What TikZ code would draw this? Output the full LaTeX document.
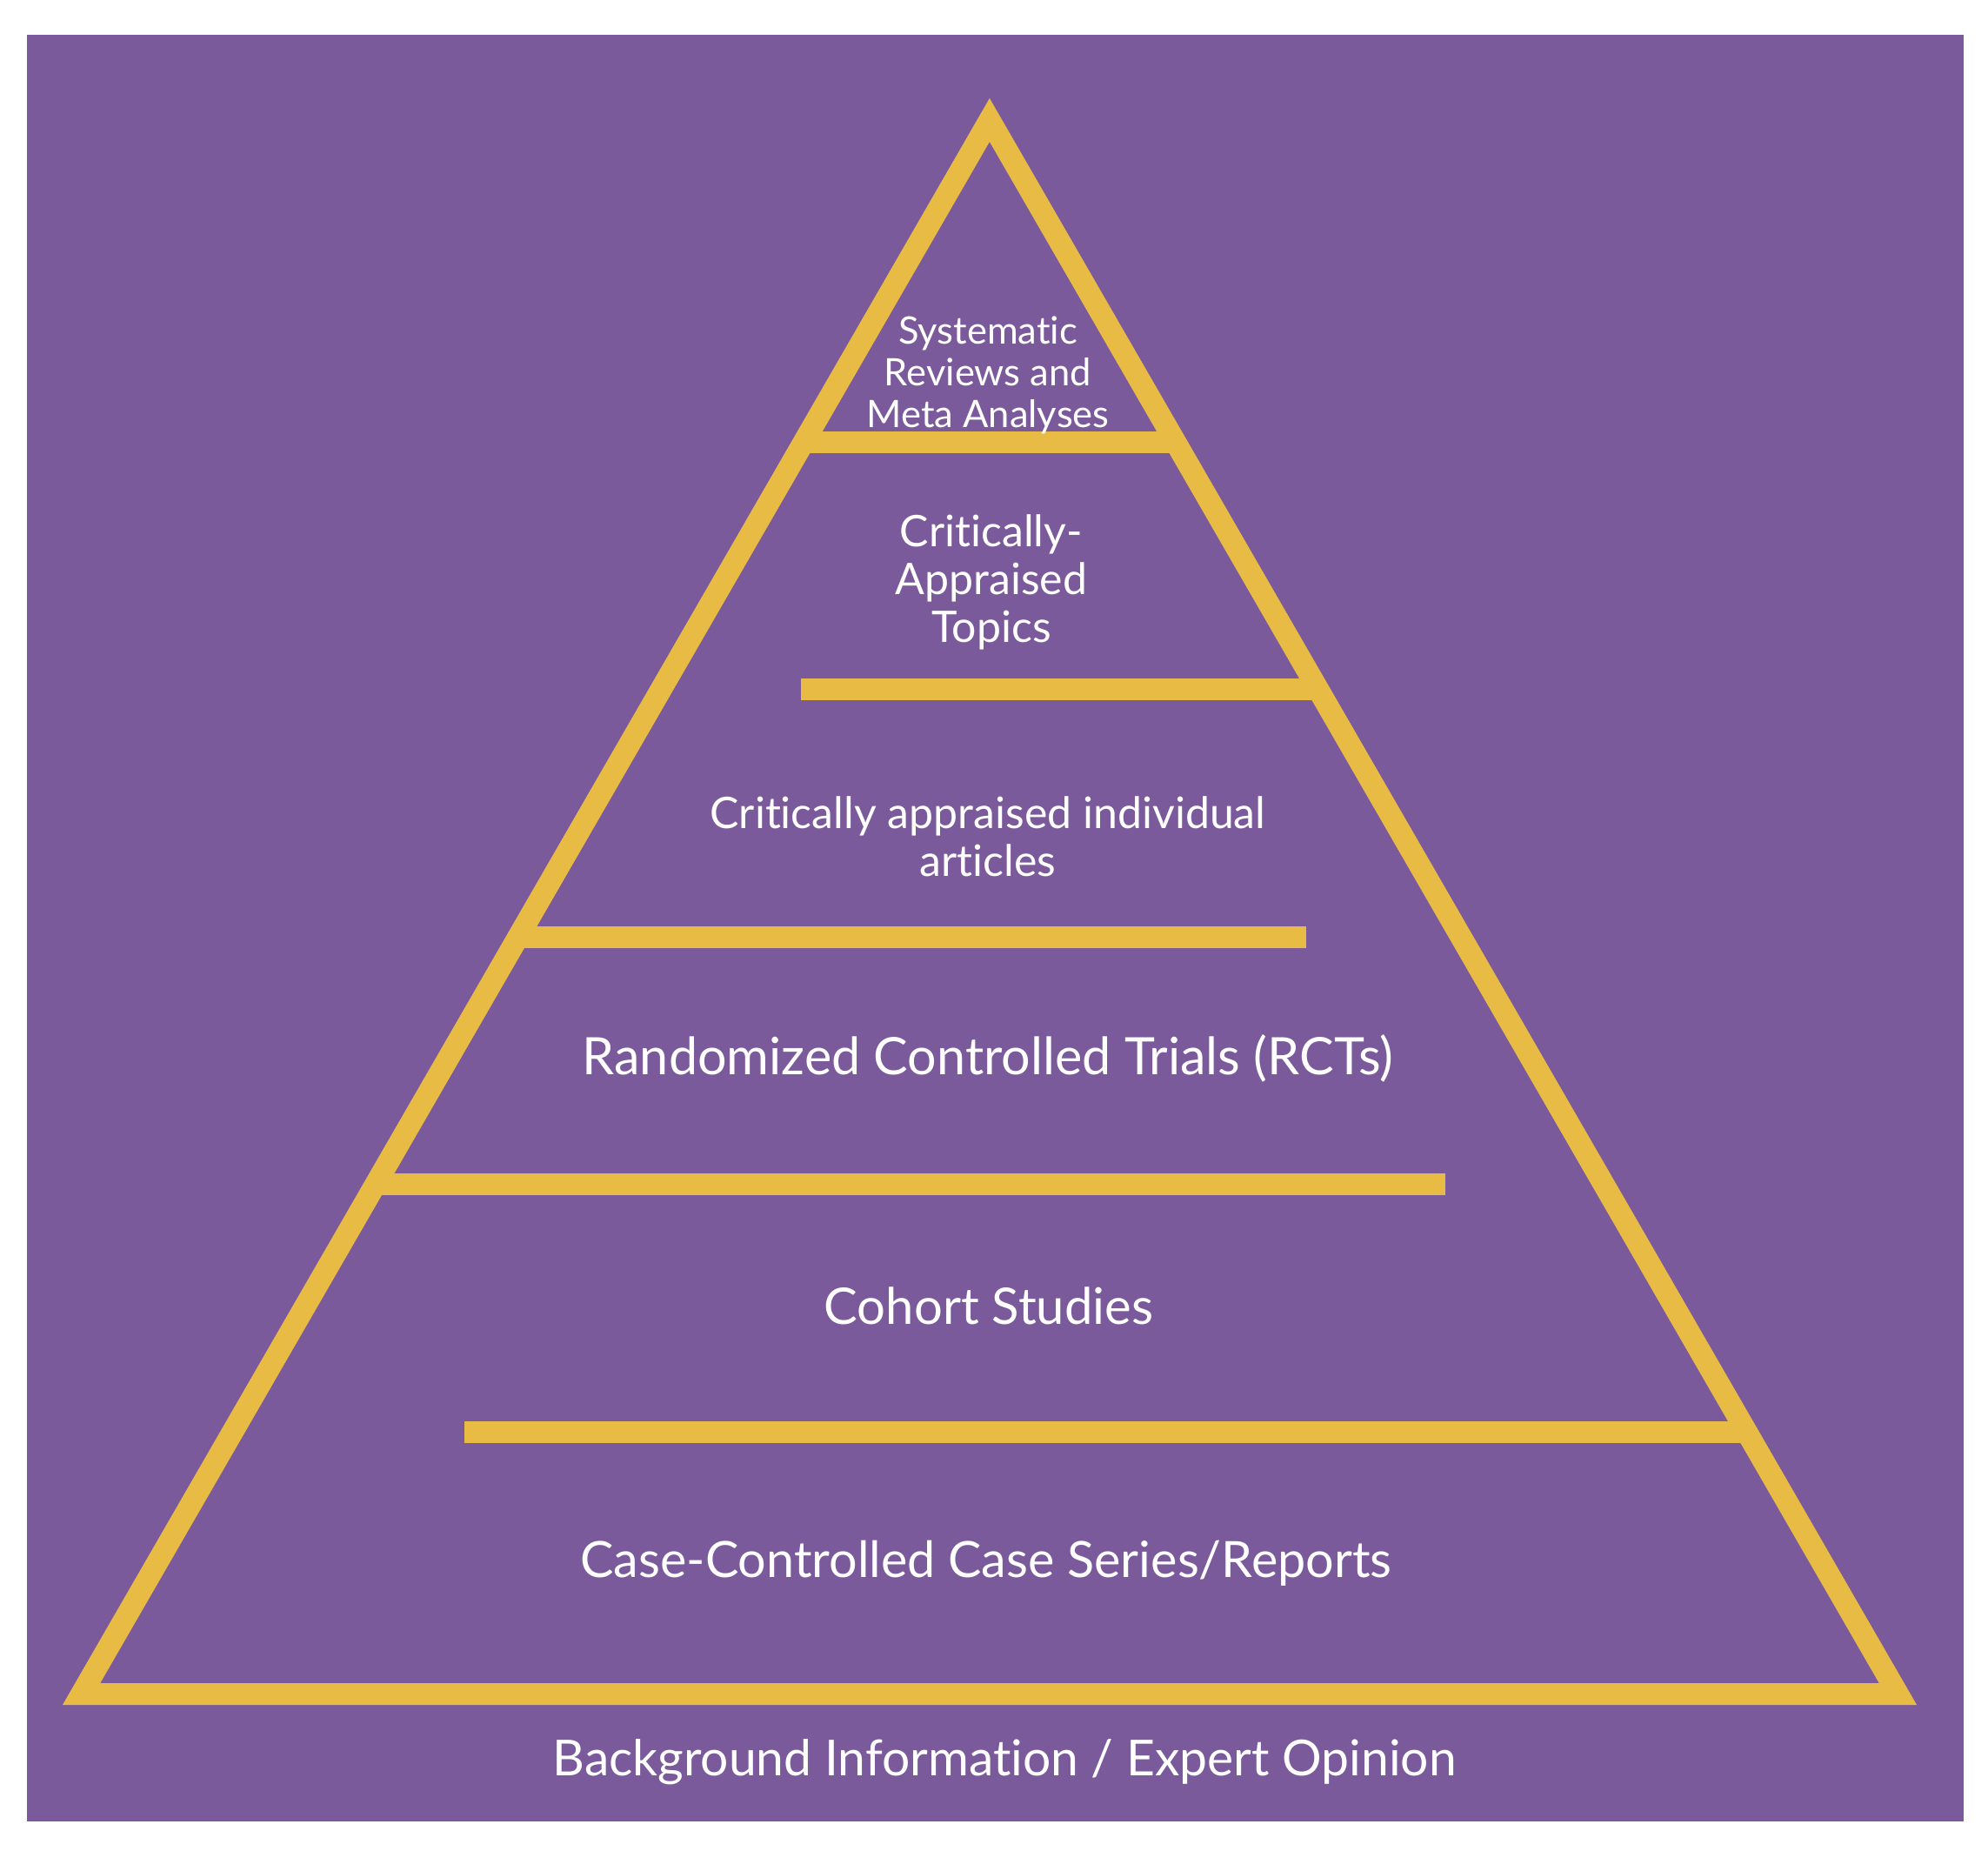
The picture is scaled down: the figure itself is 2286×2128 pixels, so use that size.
\documentclass[tikz,border=0pt]{standalone}
\usepackage{fontspec}
\setmainfont{Lato}[Ligatures={NoCommon,NoDiscretionary,NoContextual}]
\definecolor{bgpurple}{RGB}{123,90,155}
\definecolor{gold}{RGB}{232,187,69}
\begin{document}
\begin{tikzpicture}[x=1pt,y=-1pt,
  goldline/.style={draw=gold,line width=25pt,line cap=butt},
  lbl/.style={text=white,inner sep=0pt,align=center}]
\useasboundingbox (0,0) rectangle (2286,2128);
\fill[white] (0,0) rectangle (2286,2128);
\fill[bgpurple] (31,40) rectangle (2258,2094);
\coordinate (A) at (1137.9,138);
\coordinate (BL) at (93.6,1947.5);
\coordinate (BR) at (2182.4,1947.5);
\draw[goldline,line join=miter] (BL) -- (A) -- (BR) -- cycle;
% horizontal bars
\coordinate (l1a) at (924.3,508);  \coordinate (l1b) at (1351.5,508);
\coordinate (l2a) at (921,792.5);  \coordinate (l2b) at (1515.8,792.5);
\coordinate (l3a) at (595.5,1077.5); \coordinate (l3b) at (1502,1077.5);
\coordinate (l4a) at (431.5,1361.5); \coordinate (l4b) at (1662,1361.5);
\coordinate (l5a) at (534,1646.5); \coordinate (l5b) at (2008.9,1646.5);
\draw[goldline] (l1a) -- (l1b);
\draw[goldline] (l2a) -- (l2b);
\draw[goldline] (l3a) -- (l3b);
\draw[goldline] (l4a) -- (l4b);
\draw[goldline] (l5a) -- (l5b);
% labels
\node[lbl,font=\fontsize{43.5}{48}\selectfont] (t1) at (1136,431) {Systematic\\Reviews and\\Meta Analyses};
\node[lbl,font=\fontsize{50}{55}\selectfont] (t2) at (1140,669) {Critically-\\Appraised\\Topics};
\node[lbl,font=\fontsize{50}{55}\selectfont] (t3) at (1136,962) {Critically appraised individual\\articles};
\node[lbl,font=\fontsize{59.3}{60}\selectfont,anchor=base] (t4) at (1136,1235) {Randomized Controlled Trials (RCTs)};
\node[lbl,font=\fontsize{58}{60}\selectfont,anchor=base] (t5) at (1137,1522) {Cohort Studies};
\node[lbl,font=\fontsize{57.5}{60}\selectfont,anchor=base] (t6) at (1134,1813) {Case-Controlled Case Series/Reports};
\node[lbl,font=\fontsize{57}{60}\selectfont,anchor=base] (t7) at (1155,2041) {Background Information / Expert Opinion};
\end{tikzpicture}
\end{document}
